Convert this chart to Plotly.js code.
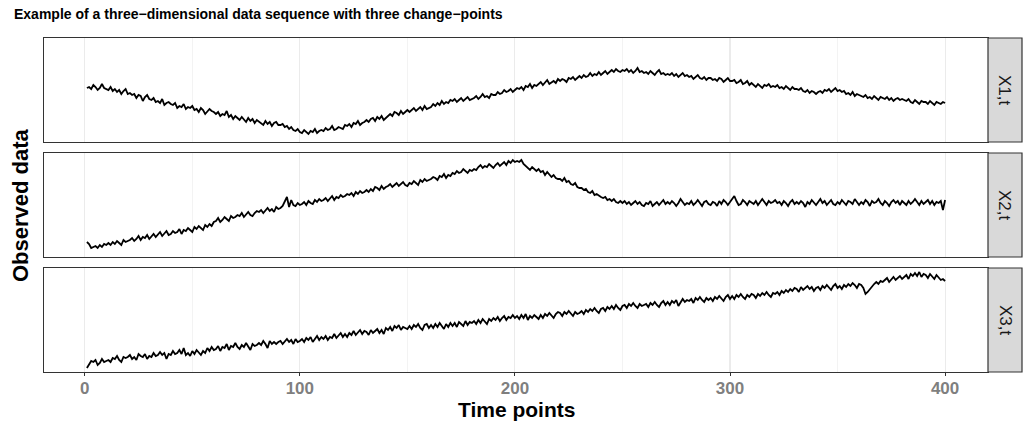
<!DOCTYPE html>
<html>
<head>
<meta charset="utf-8">
<script src="https://cdn.plot.ly/plotly-3.0.1.min.js"></script>
<style>html,body{margin:0;padding:0;background:#fff}#chart{width:1030px;height:429px}</style>
</head>
<body>
<div id="chart"></div>
<script>
const panelLabels = ["X1,t", "X2,t", "X3,t"];
const tickValues = [0, 100, 200, 300, 400];
const tickLabels = ["0", "100", "200", "300", "400"];

const series1 = [
54,55,53,57,55,52,54,58,54,53, 52,55,51,53,50,52,48,51,53,48,
49,47,48,44,47,46,41,45,47,43, 42,44,40,41,39,43,37,39,40,38,
37,39,34,36,35,38,33,35,34,36, 32,33,30,34,32,28,30,33,31,30,
28,30,26,28,27,31,25,27,23,26, 24,22,25,23,20,24,21,23,19,22,
20,19,17,21,18,20,16,19,20,17, 17,18,15,16,13,15,12,11,13,10,
9,12,10,8,11,10,13,9,11,12, 11,14,12,13,16,12,13,15,14,13,
17,16,18,15,19,18,21,17,19,20, 22,20,23,24,21,25,23,26,22,24,
27,28,26,30,29,27,31,28,30,32, 30,32,34,31,33,35,32,36,33,34,
35,38,36,39,37,41,38,40,39,42, 41,43,40,42,44,41,43,45,42,43,
44,46,43,45,48,45,46,44,48,47, 47,50,48,49,52,50,51,53,50,52,
54,53,55,52,56,55,58,54,57,56, 58,60,57,59,62,58,60,61,59,63,
61,63,62,60,64,63,65,62,64,66, 64,67,65,66,69,66,68,67,70,67,
69,71,68,70,72,70,73,71,70,72, 71,73,70,72,69,71,74,70,71,69,
70,68,71,69,67,70,72,68,69,67, 68,67,69,66,68,65,67,69,66,67,
65,66,63,65,67,64,63,65,62,64, 64,62,63,61,64,63,60,62,64,61,
61,62,59,60,62,58,59,61,57,59, 57,55,58,56,54,57,56,58,55,56,
55,57,54,55,53,56,54,52,55,53, 53,52,54,51,50,52,49,51,50,48,
50,51,49,52,51,53,50,52,54,51, 52,50,51,48,49,47,50,46,48,47,
46,45,47,44,45,43,46,44,42,45, 44,43,45,42,44,41,43,44,42,43,
42,41,43,40,39,42,40,38,41,40, 40,38,41,39,37,40,39,38,40,39
];

const series2 = [
15,13,9,10,11,9,12,10,13,12, 14,12,15,13,16,14,12,17,15,16,
17,19,16,18,21,17,20,19,22,18, 21,23,20,22,25,21,24,26,22,23,
26,24,25,28,23,27,26,29,27,25, 30,28,31,29,27,32,30,33,31,35,
36,39,35,37,40,38,36,41,39,40, 42,41,44,40,43,45,42,41,44,46,
45,47,44,46,49,46,48,45,50,48, 49,51,55,60,50,57,52,51,54,52,
53,55,52,56,54,53,57,55,58,56, 57,59,56,58,61,57,60,59,62,60,
61,63,62,64,61,65,63,66,64,65, 67,65,68,66,70,69,67,71,68,70,
71,73,70,72,74,71,73,75,72,71, 74,73,76,74,72,77,75,78,76,77,
78,80,79,77,81,80,83,79,82,81, 84,83,86,84,85,88,86,84,87,86,
88,87,90,92,89,91,90,93,91,89, 92,94,91,93,95,92,96,94,97,95,
96,95,97,93,91,89,87,90,88,86, 88,85,86,82,85,83,80,82,79,78,
78,76,79,75,76,73,72,74,70,69, 69,67,68,65,64,66,62,63,61,60,
59,60,57,58,56,58,55,54,56,54, 56,53,55,52,54,56,53,55,52,51,
54,53,56,51,53,55,52,54,57,53, 55,53,56,54,51,54,58,55,52,54,
53,56,52,54,57,54,51,55,56,53, 52,55,54,51,56,53,57,55,52,55,
58,61,56,52,53,57,55,52,56,54, 53,56,52,55,58,55,52,56,54,55,
57,54,55,52,56,54,51,55,57,53, 55,53,56,54,50,55,53,57,55,52,
55,58,54,56,52,55,57,53,52,55, 53,57,54,52,56,55,53,58,55,52,
55,53,57,55,51,56,54,55,58,54, 52,56,54,51,55,57,54,56,52,56,
54,52,56,53,55,58,55,52,56,53, 55,57,53,56,52,55,54,56,47,57
];

const series3 = [
4,8,11,10,12,7,9,13,10,11, 12,10,14,13,16,12,10,15,14,15,
17,13,15,12,18,16,15,18,13,16, 15,19,16,17,20,17,19,13,18,17,
21,18,19,22,18,24,17,19,16,21, 18,22,20,17,21,19,24,21,25,22,
23,26,21,25,24,28,22,26,25,29, 25,23,27,25,29,26,22,28,26,27,
29,27,31,28,24,31,28,30,28,30, 31,28,30,33,30,32,28,33,30,31,
33,30,34,32,35,30,33,36,32,35, 33,36,32,35,34,38,34,36,39,35,
38,35,39,37,41,37,40,42,38,41, 40,37,42,39,41,43,39,42,38,44,
42,45,41,46,44,47,42,45,44,43, 46,43,47,45,48,44,42,47,48,44,
47,44,48,45,49,46,43,48,45,49, 46,49,45,50,48,46,51,47,50,49,
51,48,52,49,53,51,48,53,51,54, 52,55,51,54,56,52,55,54,57,54,
56,53,57,54,58,52,56,54,57,55, 53,57,54,58,56,59,56,54,58,60,
59,56,60,58,61,58,56,60,58,59, 61,58,62,60,63,61,64,61,59,63,
64,61,65,63,66,63,67,64,62,66, 67,64,68,66,69,66,64,68,66,67,
68,65,69,67,70,67,65,69,71,67, 70,67,71,69,72,66,70,73,70,72,
71,73,69,74,72,75,72,70,74,72, 74,71,75,73,76,73,71,75,77,73,
76,73,77,75,78,75,73,77,75,78, 77,74,78,76,79,77,80,77,75,79,
78,80,77,81,79,82,80,83,81,84, 83,80,85,82,84,86,83,85,81,84,
85,82,86,84,87,85,82,86,88,84, 86,83,87,85,88,86,89,87,84,88,
87,84,78,80,83,86,88,90,88,91, 90,92,94,90,93,95,92,94,96,93,
95,97,93,98,96,99,96,100,95,98, 97,94,98,96,93,97,95,92,93,91
];

const timePoints = series1.map((_, i) => i + 1);
const allSeries = [series1, series2, series3];

const W = 1030, H = 429;
const mL = 44, mR = 8, mT = 38, mB = 57;
const plotW = W - mL - mR, plotH = H - mT - mB;
const panelRight = (988 - mL) / plotW;
const domains = [[0.68862, 1], [0.34431, 0.65569], [0, 0.31138]];
const FONT = "Liberation Sans, Arial, Helvetica, sans-serif";

const traces = allSeries.map((s, i) => ({
  x: timePoints, y: s, type: "scatter", mode: "lines",
  line: {color: "#000000", width: 1.8},
  xaxis: i === 0 ? "x" : "x" + (i + 1),
  yaxis: i === 0 ? "y" : "y" + (i + 1),
  hoverinfo: "skip", showlegend: false
}));

const layout = {
  width: W, height: H,
  margin: {l: mL, r: mR, t: mT, b: mB, pad: 0},
  paper_bgcolor: "#ffffff", plot_bgcolor: "#ffffff",
  showlegend: false,
  title: {
    text: "<b>Example of a three\u2212dimensional data sequence with three change\u2212points</b>",
    xref: "container", yref: "container",
    x: 14 / W, xanchor: "left", y: 1 - 14 / H, yanchor: "middle",
    font: {family: FONT, size: 14, color: "#000000"}
  },
  shapes: [],
  annotations: [
    {text: "<b>Observed data</b>", xref: "paper", yref: "paper",
     x: (20 - mL) / plotW, y: 0.5, xanchor: "center", yanchor: "middle",
     textangle: -90, showarrow: false, font: {family: FONT, size: 22, color: "#000000"}},
    {text: "<b>Time points</b>", xref: "paper", yref: "paper",
     x: panelRight / 2, y: (372 - 423) / plotH, xanchor: "center", yanchor: "bottom",
     showarrow: false, font: {family: FONT, size: 21, color: "#000000"}}
  ]
};

for (let i = 0; i < 3; i++) {
  const xa = i === 0 ? "xaxis" : "xaxis" + (i + 1);
  const ya = i === 0 ? "yaxis" : "yaxis" + (i + 1);
  const yref = i === 0 ? "y" : "y" + (i + 1);
  const bottom = i === 2;
  layout[xa] = {
    domain: [0, panelRight], anchor: yref,
    range: [-18.95, 419.95],
    tickvals: tickValues, ticktext: tickLabels,
    showticklabels: bottom,
    ticks: bottom ? "outside" : "", ticklen: 3, tickwidth: 1, tickcolor: "#333333",
    ticklabelstandoff: -3,
    tickfont: {family: FONT, size: 17, color: "#7F7F7F", weight: "bold"},
    showgrid: true, gridcolor: "#EBEBEB", gridwidth: 1.1,
    minor: {dtick: 50, tick0: 0, showgrid: true, gridcolor: "#F0F0F0", gridwidth: 0.8, ticks: ""},
    zeroline: false, showline: true, mirror: true, linecolor: "#333333", linewidth: 1.2,
    fixedrange: true
  };
  layout[ya] = {
    domain: domains[i], anchor: i === 0 ? "x" : "x" + (i + 1),
    range: [0, 104],
    showticklabels: false, ticks: "", showgrid: false, zeroline: false,
    showline: true, mirror: true, linecolor: "#333333", linewidth: 1.2,
    fixedrange: true
  };
  // facet strip on the right
  layout.shapes.push({
    type: "rect", xref: "paper", yref: "paper",
    x0: panelRight, x1: 1, y0: domains[i][0], y1: domains[i][1],
    fillcolor: "#D9D9D9", line: {color: "#333333", width: 1.2}, layer: "above"
  });
  layout.annotations.push({
    text: panelLabels[i], xref: "paper", yref: "paper",
    x: (panelRight + 1) / 2, y: (domains[i][0] + domains[i][1]) / 2,
    xanchor: "center", yanchor: "middle", textangle: 90, showarrow: false,
    font: {family: FONT, size: 17, color: "#1A1A1A"}
  });
}

Plotly.newPlot("chart", traces, layout, {staticPlot: true, displayModeBar: false});
</script>
</body>
</html>
